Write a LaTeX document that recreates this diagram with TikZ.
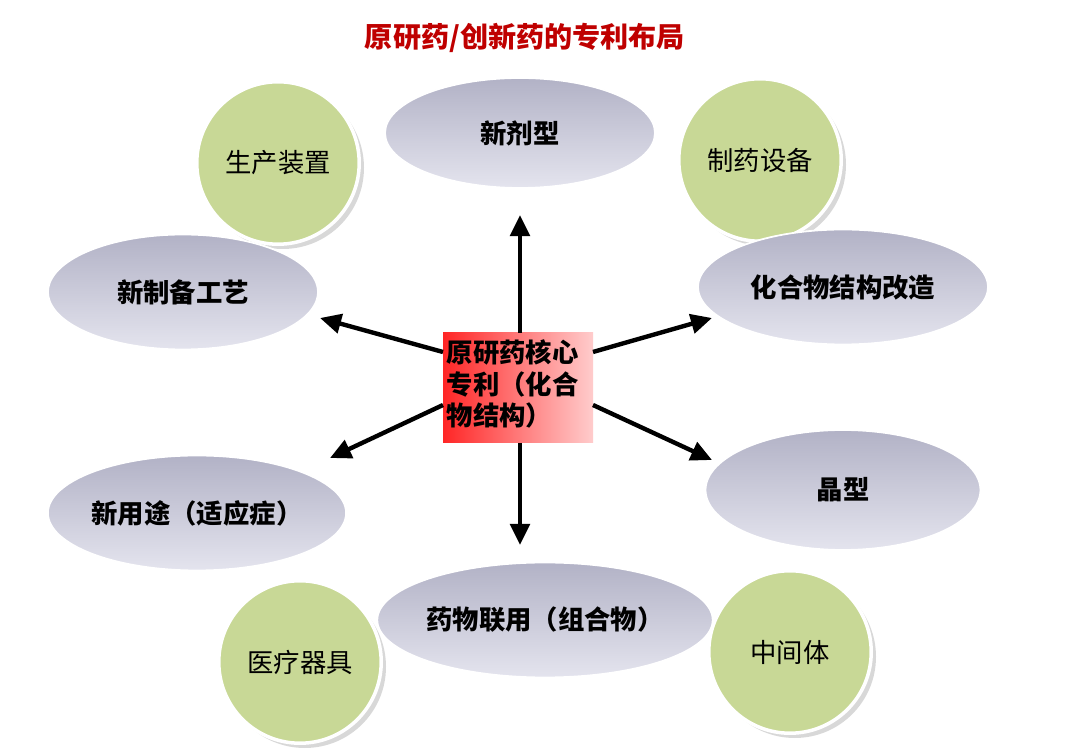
\documentclass[tikz,border=0pt]{standalone}
\usepackage{fontspec}
\setmainfont{Noto Sans CJK SC}
\usetikzlibrary{shadows,arrows.meta,shapes.geometric}
\begin{document}
\begin{tikzpicture}[x=0.02cm,y=-0.02cm,
 arr/.style={line width=2.5pt,-{Triangle[length=12pt,width=11pt]}}]
\useasboundingbox (0,0) rectangle (1080,756);
\fill[white] (0,0) rectangle (1080,756);
\definecolor{gc}{RGB}{200,216,150}
\definecolor{ovtop}{RGB}{228,228,238}
\definecolor{ovbot}{RGB}{178,178,198}
\tikzset{green/.style={circle,minimum size=3.25cm,inner sep=0pt,fill=gc,draw=white,line width=2pt,drop shadow={opacity=0.3},font=\fontsize{15}{17}\selectfont},
 oval/.style={ellipse,inner sep=0pt,draw=white,line width=1pt,top color=ovbot,bottom color=ovtop,font=\bfseries\fontsize{15}{17}\selectfont}}
\node[font=\bfseries\fontsize{16}{18}\selectfont,text=red!75!black] (t) at (525,38) {原研药/创新药的专利布局};
\node[green] (c1) at (278,163) {生产装置};
\node[green] (c2) at (760,160) {制药设备};
\node[green] (c3) at (300,662) {医疗器具};
\node[green] (c4) at (790,652) {中间体};
\node[oval,minimum width=5.4cm,minimum height=2.2cm] (e1) at (520,133) {新剂型};
\node[oval,minimum width=5.4cm,minimum height=2.3cm] (e2) at (183,292) {新制备工艺};
\node[oval,minimum width=5.8cm,minimum height=2.3cm] (e3) at (843,287) {化合物结构改造};
\node[oval,minimum width=5.4cm,minimum height=2.3cm] (e4) at (197,513) {新用途（适应症）};
\node[oval,minimum width=5.5cm,minimum height=2.4cm] (e5) at (843,490) {晶型};
\node[oval,minimum width=5.6cm,minimum height=2.3cm] (e6) at (545,620) {药物联用（组合物）};
\shade[left color=red!85,right color=red!20] (443,333) rectangle (593,443);
\node[font=\bfseries\fontsize{15}{18}\selectfont,align=left,text width=3.2cm,anchor=north west,inner sep=2pt] (m) at (443,336) {原研药核心\\专利（化合\\物结构）};
\draw[arr] (520,333) -- (520,215);
\draw[arr] (443,352) -- (320,318);
\draw[arr] (593,352) -- (712,318);
\draw[arr] (443,405) -- (330,458);
\draw[arr] (593,405) -- (712,460);
\draw[arr] (520,443) -- (520,545);
\end{tikzpicture}
\end{document}
